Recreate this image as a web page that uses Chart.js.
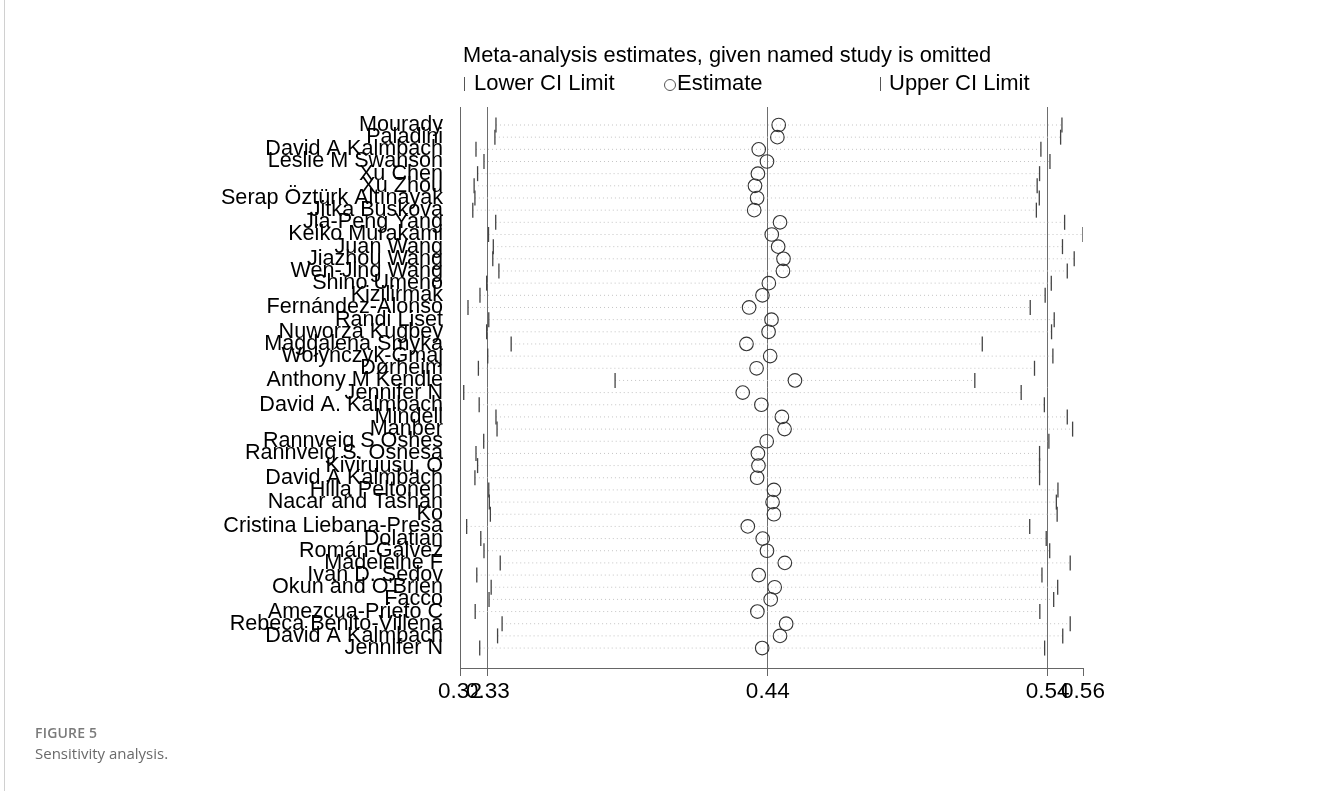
<!DOCTYPE html>
<html>
<head>
<meta charset="utf-8">
<script src="https://cdn.jsdelivr.net/npm/chart.js@4/dist/chart.umd.min.js"></script>
<style>
  html, body { margin: 0; padding: 0; background: #fff; }
  #wrap { position: relative; width: 1328px; height: 791px; overflow: hidden; }
  #c { position: absolute; left: 0; top: 0; }
  .edge { position: absolute; left: 4px; top: 0; width: 1px; height: 791px; background: #d0d0d0; }
  .cap1 { position: absolute; left: 35px; top: 723px; font: 600 14px "Open Sans", sans-serif; color: #7a7a7a; letter-spacing: 0.2px; }
  .cap2 { position: absolute; left: 35px; top: 743px; font: 400 15px "Open Sans", sans-serif; color: #6a6a6a; }
</style>
</head>
<body>
<div id="wrap">
  <canvas id="c" width="1328" height="791"></canvas>
  <div class="edge"></div>
  <div class="cap1">FIGURE 5</div>
  <div class="cap2">Sensitivity analysis.</div>
</div>
<script>
const studies = [
  "Mourady", "Paladini", "David A Kalmbach", "Leslie M Swanson", "Xu Chen", "Xu Zhou",
  "Serap Öztürk Altınayak", "Jitka Buskova", "Jia-Peng Yang", "Keiko Murakami", "Juan Wang",
  "Jiazhou Wang", "Wen-Jing Wang", "Shino Umeno", "Kizilirmak", "Fernández-Alonso",
  "Randi Liset", "Nuworza Kugbey", "Magdalena Smyka", "Wołyńczyk-Gmaj", "Dørheim",
  "Anthony M Kendle", "Jennifer N", "David A. Kalmbach", "Mindell", "Manber",
  "Rannveig S Oshes", "Rannveig S. Osnesa", "Kiviruusu, O", "David A Kalmbach",
  "Hilla Peltonen", "Nacar and Tashan", "Ko", "Cristina Liebana-Presa", "Dolatian",
  "Román-Gálvez", "Madeleine F", "Ivan D. Sedov", "Okun and O'Brien", "Facco",
  "Amezcua-Prieto C", "Rebeca Benito-Villena", "David A Kalmbach", "Jennifer N"
];
const lowerCI = [
  0.3355, 0.3351, 0.3280, 0.3310, 0.3286, 0.3273, 0.3276, 0.3268, 0.3354, 0.3327, 0.3345,
  0.3343, 0.3366, 0.3320, 0.3295, 0.3250, 0.3328, 0.3320, 0.3412, 0.3324, 0.3289,
  0.3802, 0.3234, 0.3292, 0.3355, 0.3359, 0.3309, 0.3280, 0.3286, 0.3276,
  0.3328, 0.3330, 0.3334, 0.3245, 0.3298, 0.3310, 0.3371, 0.3283, 0.3337, 0.3329,
  0.3277, 0.3378, 0.3361, 0.3294
];
const estimate = [
  0.4416, 0.4411, 0.4341, 0.4372, 0.4338, 0.4327, 0.4335, 0.4324, 0.4421, 0.4390, 0.4414,
  0.4434, 0.4432, 0.4379, 0.4355, 0.4305, 0.4389, 0.4378, 0.4295, 0.4384, 0.4333,
  0.4477, 0.4281, 0.4351, 0.4428, 0.4438, 0.4371, 0.4338, 0.4340, 0.4335,
  0.4398, 0.4393, 0.4398, 0.4300, 0.4356, 0.4372, 0.4439, 0.4341, 0.4401, 0.4386,
  0.4336, 0.4444, 0.4421, 0.4354
];
const upperCI = [
  0.5479, 0.5474, 0.5400, 0.5434, 0.5395, 0.5386, 0.5394, 0.5383, 0.5489, 0.5558, 0.5481,
  0.5525, 0.5499, 0.5439, 0.5416, 0.5360, 0.5450, 0.5440, 0.5180, 0.5445, 0.5376,
  0.5152, 0.5326, 0.5413, 0.5499, 0.5519, 0.5430, 0.5395, 0.5395, 0.5395,
  0.5464, 0.5458, 0.5461, 0.5358, 0.5420, 0.5433, 0.5510, 0.5404, 0.5463, 0.5448,
  0.5396, 0.5510, 0.5482, 0.5414
];
const overall = [0.3325, 0.4375, 0.5425];
const xTickValues = [0.3220, 0.3325, 0.4375, 0.5425, 0.5558];
const xTickLabels = ["0.32", "0.33", "0.44", "0.54", "0.56"];
const titleText = "Meta-analysis estimates, given named study is omitted";
const legendLabels = ["Lower CI Limit", "Estimate", "Upper CI Limit"];

const FONT = '"Liberation Sans", Arial, sans-serif';

const connectors = [];
studies.forEach((s, i) => {
  connectors.push({ x: lowerCI[i], y: i });
  connectors.push({ x: upperCI[i], y: i });
  connectors.push({ x: null, y: null });
});

const headerPlugin = {
  id: 'header',
  afterDraw(chart) {
    const ctx = chart.ctx;
    ctx.save();
    ctx.fillStyle = '#000';
    ctx.textBaseline = 'middle';
    ctx.textAlign = 'left';
    ctx.font = '21.8px ' + FONT;
    ctx.fillText(titleText, 463, 56);
    // legend
    ctx.font = '22px ' + FONT;
    ctx.strokeStyle = '#555';
    ctx.lineWidth = 1;
    ctx.beginPath(); ctx.moveTo(464.5, 77); ctx.lineTo(464.5, 91); ctx.stroke();
    ctx.fillText(legendLabels[0], 474, 84);
    ctx.beginPath(); ctx.arc(670, 85, 5.5, 0, Math.PI * 2); ctx.stroke();
    ctx.fillText(legendLabels[1], 677, 84);
    ctx.beginPath(); ctx.moveTo(880.5, 77); ctx.lineTo(880.5, 91); ctx.stroke();
    ctx.fillText(legendLabels[2], 889, 84);
    ctx.restore();
  }
};

new Chart(document.getElementById('c'), {
  type: 'scatter',
  data: {
    datasets: [
      {
        label: 'Estimate',
        data: estimate.map((v, i) => ({ x: v, y: i })),
        pointStyle: 'circle',
        pointRadius: 6.8,
        pointBorderWidth: 1.1,
        pointBorderColor: '#333',
        pointBackgroundColor: 'rgba(0,0,0,0)',
        showLine: false
      },
      {
        label: 'Lower CI Limit',
        data: lowerCI.map((v, i) => ({ x: v, y: i })),
        pointStyle: 'line',
        rotation: 90,
        pointRadius: 7.5,
        pointBorderWidth: 1.3,
        pointBorderColor: '#444',
        showLine: false
      },
      {
        label: 'Upper CI Limit',
        data: upperCI.map((v, i) => ({ x: v, y: i })),
        pointStyle: 'line',
        rotation: 90,
        pointRadius: 7.5,
        pointBorderWidth: 1.3,
        pointBorderColor: '#444',
        showLine: false
      },
      {
        label: 'CI',
        data: connectors,
        showLine: true,
        spanGaps: false,
        borderColor: '#c4c4c4',
        borderWidth: 1,
        borderDash: [1, 3],
        pointRadius: 0
      }
    ]
  },
  options: {
    responsive: false,
    animation: false,
    devicePixelRatio: 1,
    events: [],
    layout: { padding: { left: 0, right: 245, top: 107, bottom: 0 } },
    plugins: { legend: { display: false }, tooltip: { enabled: false }, title: { display: false } },
    scales: {
      x: {
        type: 'linear',
        min: xTickValues[0],
        max: xTickValues[4],
        afterBuildTicks(scale) { scale.ticks = xTickValues.map(v => ({ value: v })); },
        afterFit(scale) { scale.height = 123; },
        grid: {
          display: true,
          drawOnChartArea: true,
          drawTicks: true,
          tickLength: 8,
          color: (ctx) => (ctx.index >= 1 && ctx.index <= 3) ? '#6e6e6e' : 'rgba(0,0,0,0)',
          tickColor: '#666',
          lineWidth: 1
        },
        border: { display: true, color: '#666', width: 1 },
        ticks: {
          autoSkip: false,
          maxRotation: 0,
          padding: 2,
          color: '#000',
          font: { family: FONT, size: 22.5 },
          callback: (v, i) => xTickLabels[i]
        }
      },
      y: {
        type: 'linear',
        reverse: true,
        min: -1.48,
        max: 44.64,
        afterBuildTicks(scale) { scale.ticks = studies.map((s, i) => ({ value: i })); },
        afterFit(scale) { scale.width = 460; },
        grid: { display: false, drawTicks: false },
        border: { display: true, color: '#666', width: 1 },
        ticks: {
          autoSkip: false,
          padding: 17,
          color: '#000',
          font: { family: FONT, size: 21.6 },
          callback: (v) => studies[v]
        }
      }
    }
  },
  plugins: [headerPlugin]
});
</script>
</body>
</html>
